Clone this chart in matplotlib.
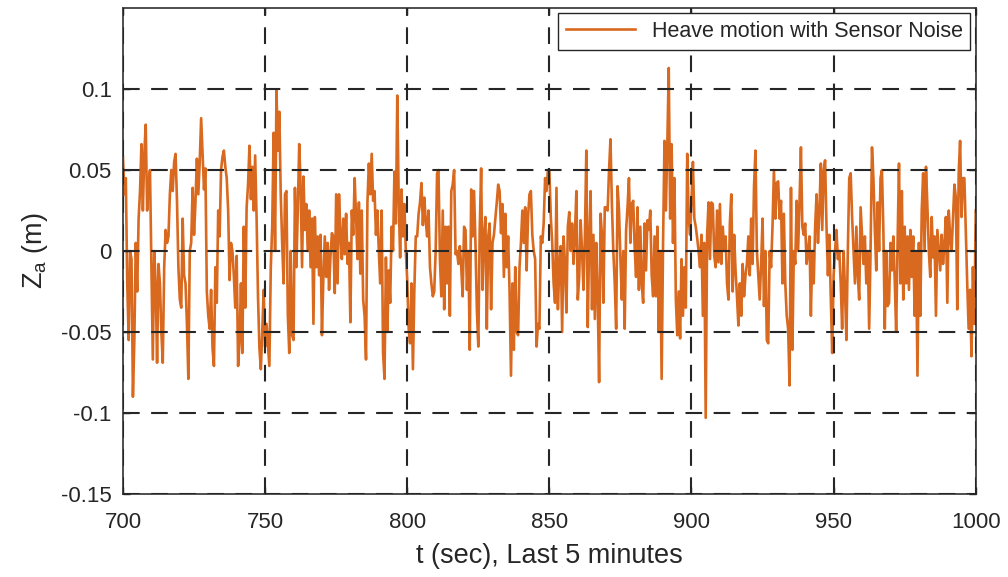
import numpy as np
import matplotlib
matplotlib.use("Agg")
import matplotlib.pyplot as plt
from matplotlib.ticker import FuncFormatter

# Heave motion with sensor noise, values in millimetres, sampled every 0.5 s from 700 s to 1000 s
z_mm = [
    58, 35, 45, -20, -55, 0, -5, -90, -55, 5, -25, 20, 37, 66, 25, 60, 78, 25, 42, 50,          # 700
    -10, -67, 0, -20, -69, -8, -20, -50, -69, -10, 13, 5, 9, 35, 50, 37, 55, 60, 31, -10,     # 710
    -30, -35, 20, -15, -20, -45, -79, 0, 5, 39, 10, 30, 57, 35, 55, 82, 60, 38, 51, -25,      # 720
    -40, -48, -24, -60, -71, -10, -32, 25, 9, 50, 58, 62, 52, 45, 25, -18, 5, 0, -15, -35,    # 730
    -3, -71, -56, -20, -63, 15, -35, 27, 41, 65, 32, 52, 25, 59, 21, -28, -60, -73, -50, -24, # 740
    -59, -45, -58, -71, -10, 15, 73, 0, 99, 62, 86, 35, 5, -20, 35, 37, -40, -63, 0, -52,     # 750
    -55, 39, -10, 25, 66, 40, -10, 46, 13, 29, 0, 25, -10, 20, -45, 21, -10, 9, -15, 10,      # 760
    -52, -16, 9, -16, 5, -24, -3, 11, 9, -26, 35, -20, 35, 10, -5, 20, -2, 23, -8, 5,         # 770
    -44, 25, 10, 45, 21, -5, 30, -14, 25, -30, -40, -67, 30, 54, 35, 60, 31, 37, 10, 25,      # 780
    0, -20, 25, -63, -79, -4, -50, -12, -32, 15, 0, 49, 17, 96, 31, -4, 38, 9, 29, 0,         # 790
    -18, -48, -57, -20, -73, -24, 9, 9, 23, 30, 42, 16, 33, 19, 9, 25, -10, -20, -28, -25,    # 800
    0, 48, 50, -5, -28, 25, -36, 15, -20, 15, -40, 37, 41, 50, -2, 0, -8, 3, -10, -28,        # 810
    15, 13, -24, 0, -61, 38, 9, 37, 5, -36, -59, 13, 51, -24, 9, 21, -48, 9, 17, -36,         # 820
    5, 10, 20, 30, 41, 37, 11, 29, -16, 23, -10, 9, -25, -77, -20, -61, -10, -50, -52, -10,   # 830
    5, 25, 5, 27, -12, 21, 35, 37, 10, 0, -5, -59, -45, -48, 9, 5, 17, 45, 37, 50,            # 840
    50, 21, 5, -20, -32, 39, -36, -10, 3, -50, 9, -8, -38, 15, 24, 0, 17, -8, 10, 37,         # 850
    -30, -16, 19, 0, -24, 9, 62, -47, 5, 37, -36, 10, -42, 5, -28, -81, 23, 10, -32, 27,      # 860
    27, 25, 50, 69, 29, 0, -20, -48, 40, 25, -5, -30, 0, -48, 13, 27, 45, 5, 29, 31,          # 870
    3, -16, 27, -24, 15, -20, -32, 17, -12, 19, 13, 25, -15, -28, 9, -28, 15, -50, 0, -79,    # 880
    5, 68, 25, 66, 113, 20, 66, 5, 45, -30, -52, -25, -54, -5, -40, -10, -35, 60, 21, 10,     # 890
    31, 55, 20, 15, 8, 0, -10, 10, -40, 5, -103, 10, 30, -5, 30, 29, -3, -10, 25, -7,         # 900
    29, -8, 15, 0, 9, -20, -30, 17, 35, -25, 10, -12, -28, -46, -20, -40, -8, -28, -15, -8,   # 910
    9, -15, 20, -8, 40, 62, 0, -15, -30, -8, 20, -34, 0, -55, -57, 0, -10, 15, 50, 20,        # 920
    42, 43, 20, 31, -20, 23, -20, -40, -48, -83, 39, -61, 0, -8, 31, 0, 30, 64, 15, 10,       # 930
    17, -8, 0, 9, -40, 0, -20, 15, 35, 5, 25, 54, 13, 50, 56, 15, -15, 10, -28, -63,          # 940
    -15, 0, 13, -5, 0, -20, -48, 0, -24, -55, 0, 45, 48, 21, 0, -20, 15, -15, -30, 27,        # 950
    9, -8, 9, -20, 0, -48, 0, 64, 45, 13, -12, 30, 0, 45, 50, 13, -48, 0, -34, -32,           # 960
    5, -12, 9, -18, -50, 5, 54, -20, 37, -30, 15, -20, 9, -24, 13, -16, 9, -40, 0, -77,       # 970
    5, -40, 25, 48, 0, 52, 27, 0, -16, 21, -4, 9, -40, 13, 0, -12, 10, -8, 5, 21,             # 980
    -32, 25, 9, 0, 21, 41, 33, -36, 48, 68, 21, 45, 45, 13, -20, -48, -24, -65, -10, -45,     # 990
    25,                                                                                        # 1000
]
t_start = 700.0
t_end = 1000.0
x_ticks = [700, 750, 800, 850, 900, 950, 1000]
y_ticks = [-0.15, -0.1, -0.05, 0, 0.05, 0.1]
legend_label = "Heave motion with Sensor Noise"
x_label = "t (sec), Last 5 minutes"
y_label = r"Z$_\mathregular{a}$ (m)"

z = np.array(z_mm) / 1000.0
t = np.linspace(t_start, t_end, len(z))

plt.rcParams['font.family'] = ['Liberation Sans', 'DejaVu Sans']
plt.rcParams['axes.unicode_minus'] = False
text_col = '#262626'

fig = plt.figure(figsize=(10.08, 5.77), dpi=100)
ax = fig.add_axes([0.122, 0.144, 0.846, 0.842])

ax.plot(t, z, color='#D9691E', lw=1.9, label=legend_label, zorder=2)

ax.set_xlim(t_start, t_end)
ax.set_ylim(-0.15, 0.15)
ax.set_xticks(x_ticks)
ax.set_yticks(y_ticks)
ax.yaxis.set_major_formatter(FuncFormatter(lambda v, p: '%g' % round(v, 4)))
ax.xaxis.set_major_formatter(FuncFormatter(lambda v, p: '%g' % v))

ax.set_axisbelow(False)
ax.grid(True, color='#262626', lw=1.5, linestyle=(0, (8, 5.5)))

ax.tick_params(direction='in', length=5, width=1, colors=text_col, labelsize=16,
               top=True, right=True)
ax.tick_params(axis='y', pad=8)
ax.tick_params(axis='x', pad=13)
for s in ax.spines.values():
    s.set_color('#404040')
    s.set_linewidth(1.3)

ax.set_xlabel(x_label, fontsize=19.5, color=text_col, labelpad=7)
ax.set_ylabel(y_label, fontsize=19.5, color=text_col, labelpad=8)

leg = ax.legend(loc='upper right', fontsize=15.5, handlelength=3.2, fancybox=False,
                edgecolor='#262626', framealpha=1, borderaxespad=0.25, borderpad=0.35)
leg.get_frame().set_linewidth(1.0)
for txt in leg.get_texts():
    txt.set_color(text_col)

fig.savefig('out.png', dpi=100)
